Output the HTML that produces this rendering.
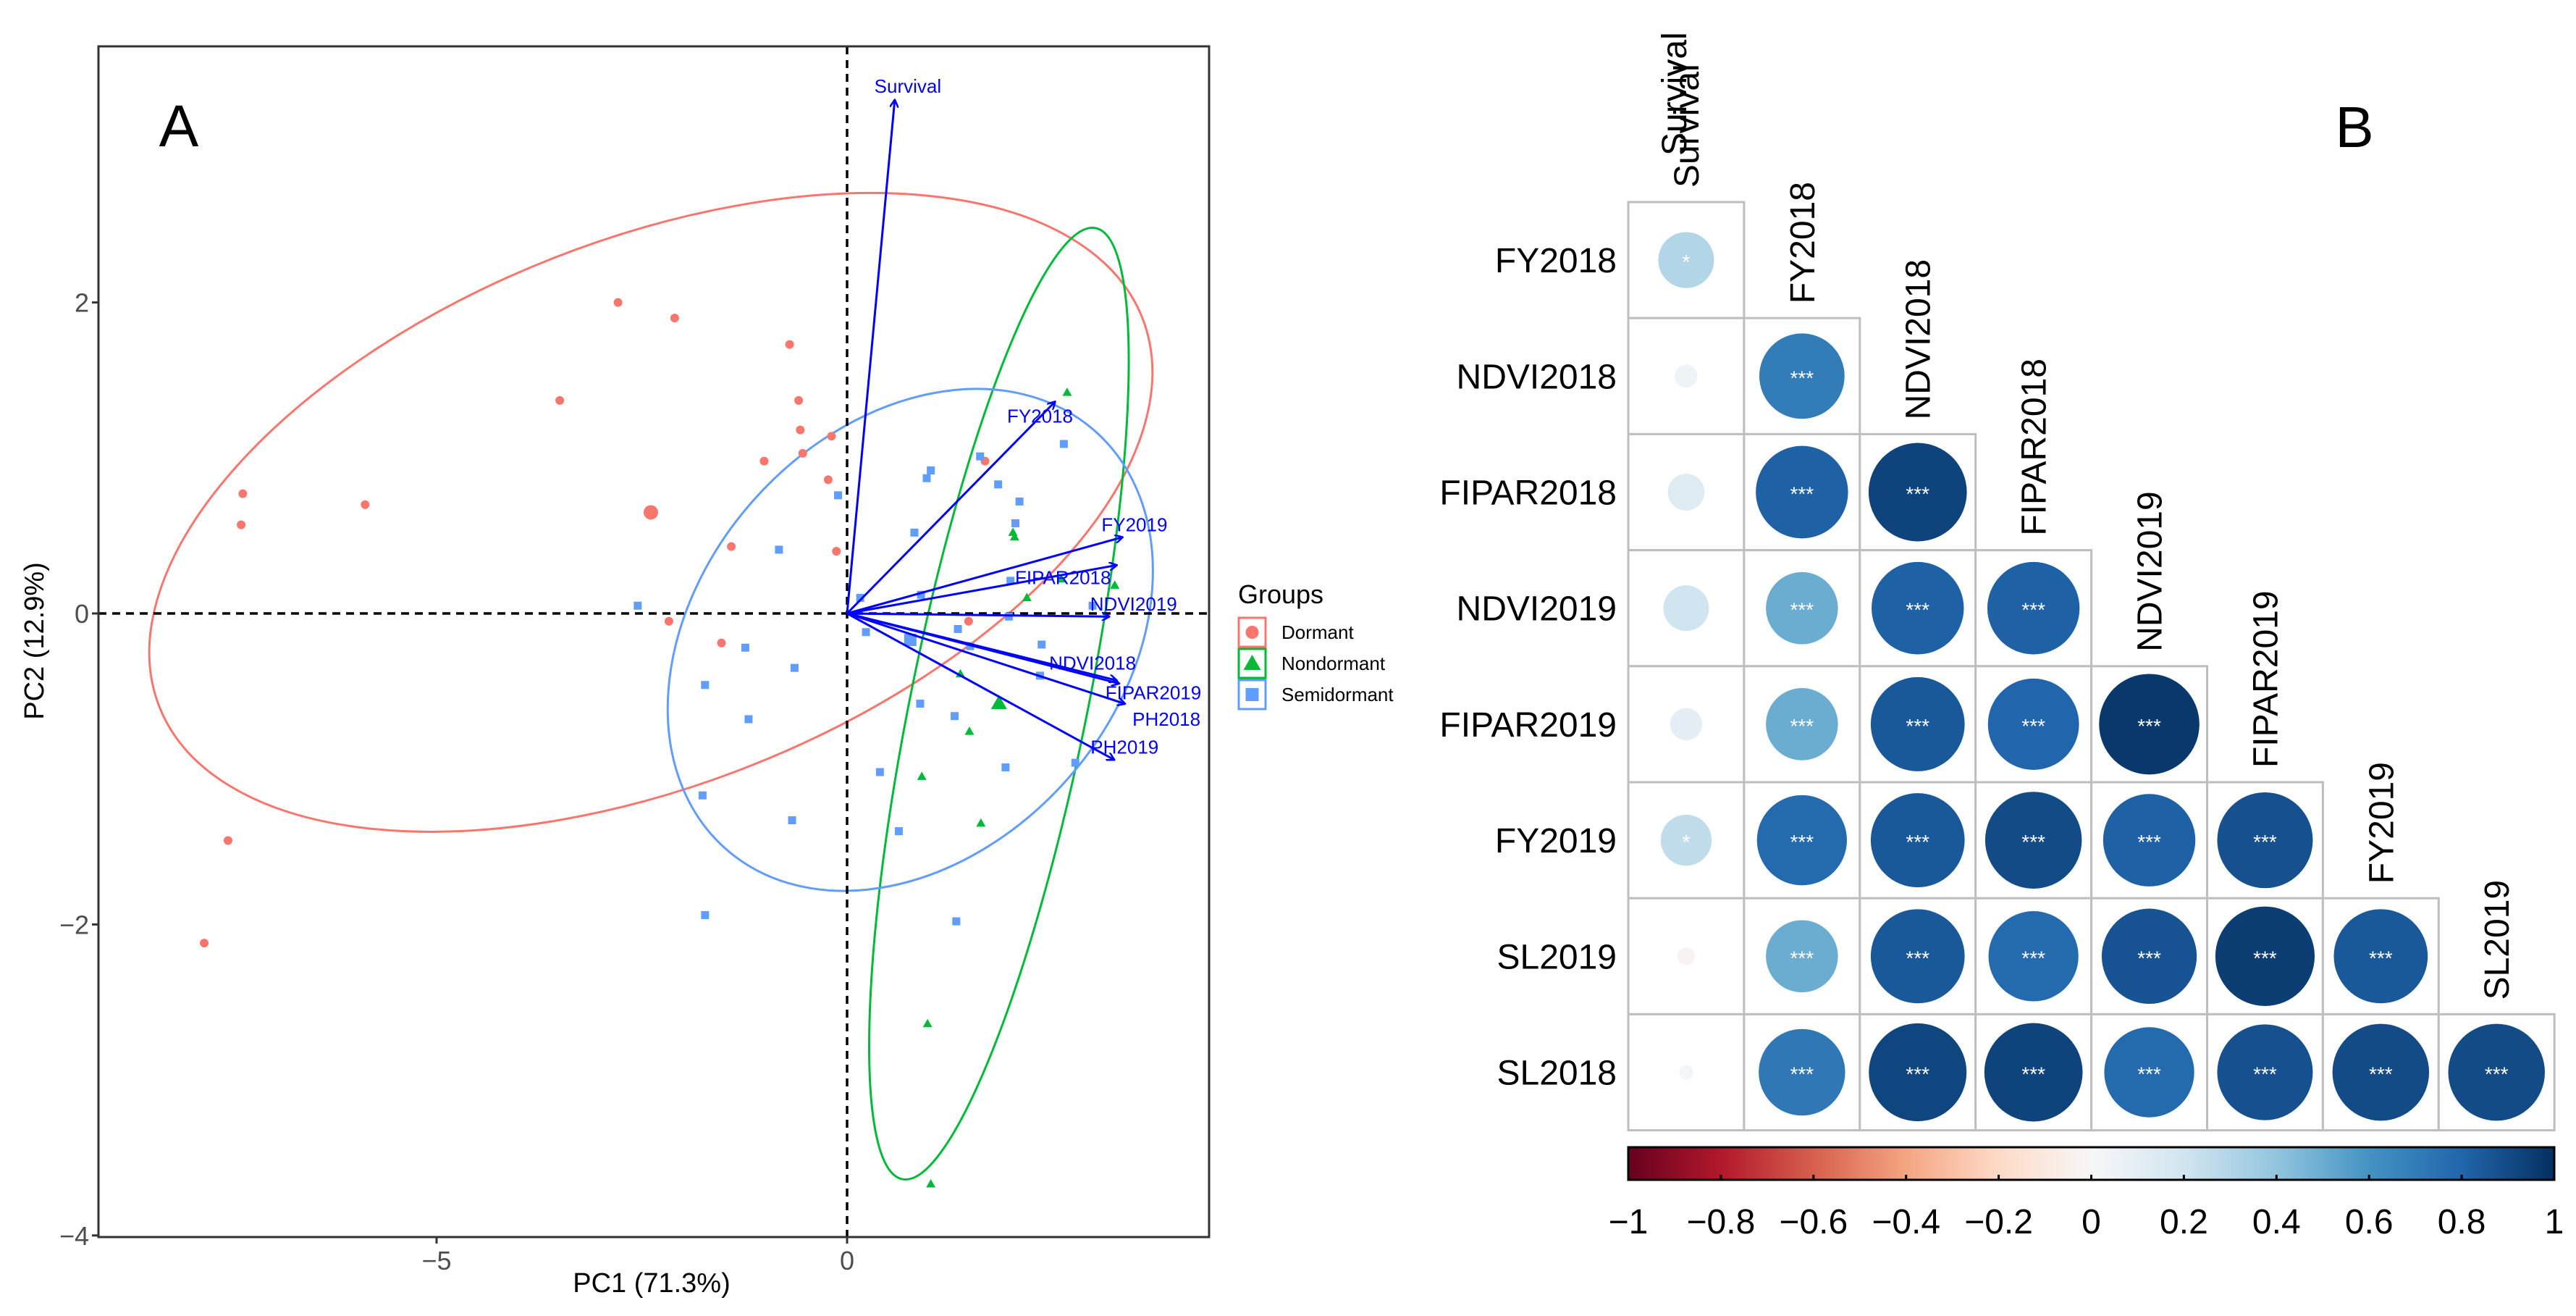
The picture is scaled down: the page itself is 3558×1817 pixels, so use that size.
<!DOCTYPE html>
<html><head><meta charset="utf-8"><style>
html,body{margin:0;padding:0;background:#fff;}
svg{display:block;font-family:"Liberation Sans",Arial,sans-serif;}
</style></head><body>
<svg id="fig" width="3558" height="1817" viewBox="0 0 3558 1817" xmlns="http://www.w3.org/2000/svg">
<rect width="3558" height="1817" fill="#fff"/>
<g id="pA"></g>
<g id="pB"></g>
</svg>
<script>
// ---------- Panel A data ----------
const dormantX = [-2.79,-2.10,-0.70,-3.50,-0.59,-0.57,-0.19,-1.01,-0.54,-0.23,-7.36,-5.87,-7.38,-1.41,-0.13,-2.17,-1.53,1.68,1.48,-7.54,-7.83];
const dormantY = [2.0,1.90,1.73,1.37,1.37,1.18,1.14,0.98,1.03,0.86,0.77,0.70,0.57,0.43,0.40,-0.05,-0.19,0.98,-0.05,-1.46,-2.12];
const nondormX = [2.68,2.02,2.04,2.61,3.26,2.19,1.38,1.49,0.91,1.63,0.98,1.02];
const nondormY = [1.42,0.52,0.49,0.22,0.18,0.10,-0.39,-0.76,-1.05,-1.35,-2.64,-3.67];
const semiX = [2.64,1.62,1.02,0.97,1.84,2.10,-0.11,0.82,2.05,-0.83,1.99,0.90,0.16,-2.55,2.99,1.97,1.35,0.23,1.50,2.37,-1.24,-0.64,2.35,-1.73,0.89,-1.20,1.31,2.78,1.93,0.40,-1.76,-0.67,0.63,-1.73,1.33];
const semiY = [1.09,1.01,0.92,0.87,0.83,0.72,0.76,0.52,0.58,0.41,0.21,0.12,0.10,0.05,0.05,-0.02,-0.10,-0.12,-0.21,-0.20,-0.22,-0.35,-0.40,-0.46,-0.58,-0.68,-0.66,-0.96,-0.99,-1.02,-1.17,-1.33,-1.40,-1.94,-1.98];
const centroidX = [-2.39,1.85,0.77];
const centroidY = [0.65,-0.58,-0.17];
const ellipseA = [730,670,385];   // semi-major (px)
const ellipseB = [376,122,290];   // semi-minor (px)
const ellipseAngle = [21.6,78.5,48.5];
const groupNames = ["Dormant","Nondormant","Semidormant"];
const groupColors = ["#F8766D","#00BA38","#619CFF"];
const varNames = ["Survival","FY2018","FY2019","FIPAR2018","NDVI2019","NDVI2018","FIPAR2019","PH2018","PH2019"];
const varX = [0.58,2.53,3.35,3.28,3.19,3.28,3.31,3.38,3.25];
const varY = [3.30,1.36,0.49,0.31,-0.02,-0.43,-0.45,-0.58,-0.94];
const varLabX = [0.74,2.35,3.50,2.63,3.49,2.99,3.73,3.89,3.38];
const varLabY = [3.39,1.27,0.57,0.23,0.06,-0.32,-0.51,-0.68,-0.86];
const xTicks = [-5,0];
const yTicks = [2,0,-2,-4];

// ---------- Panel B data ----------
const rowNames = ["FY2018","NDVI2018","FIPAR2018","NDVI2019","FIPAR2019","FY2019","SL2019","SL2018"];
const colNames = ["Survival","FY2018","NDVI2018","FIPAR2018","NDVI2019","FIPAR2019","FY2019","SL2019"];
const corrRow0 = [0.3];
const corrRow1 = [0.05,0.7];
const corrRow2 = [0.13,0.82,0.93];
const corrRow3 = [0.2,0.5,0.82,0.82];
const corrRow4 = [0.1,0.5,0.85,0.8,0.97];
const corrRow5 = [0.25,0.78,0.85,0.9,0.82,0.88];
const corrRow6 = [-0.03,0.5,0.85,0.78,0.87,0.95,0.85];
const corrRow7 = [0.02,0.72,0.92,0.93,0.78,0.88,0.9,0.9];
const sigRow0 = ["*"];
const sigRow1 = ["","***"];
const sigRow2 = ["","***","***"];
const sigRow3 = ["","***","***","***"];
const sigRow4 = ["","***","***","***","***"];
const sigRow5 = ["*","***","***","***","***","***"];
const sigRow6 = ["","***","***","***","***","***","***"];
const sigRow7 = ["","***","***","***","***","***","***","***"];
const barTicks = [-1,-0.8,-0.6,-0.4,-0.2,0,0.2,0.4,0.6,0.8,1];
const barTickLabels = ["\u22121","\u22120.8","\u22120.6","\u22120.4","\u22120.2","0","0.2","0.4","0.6","0.8","1"];

const NS="http://www.w3.org/2000/svg";
function mk(parent,tag,attrs,text){const e=document.createElementNS(NS,tag);for(const k in attrs)e.setAttribute(k,attrs[k]);if(text!==undefined)e.textContent=text;parent.appendChild(e);return e;}

// ---------- Panel A ----------
const A=document.getElementById('pA');
const L=136,R=1670,T=64,B=1708;
const sx=v=>1170+v*113.4, sy=v=>847-v*214.7;
mk(A,'defs',{}).innerHTML='<clipPath id="clipA"><rect x="136" y="64" width="1534" height="1644"/></clipPath><marker id="arr" markerWidth="12" markerHeight="12" refX="10" refY="6" orient="auto" markerUnits="userSpaceOnUse"><path d="M0,0 L11,6 L0,12" fill="none" stroke="#0000FF" stroke-width="2.5"/></marker>';
const plot=mk(A,'g',{'clip-path':'url(#clipA)'});


for(let g=0;g<3;g++){
  const e=mk(plot,'ellipse',{cx:sx(centroidX[g]),cy:sy(centroidY[g]),rx:ellipseA[g],ry:ellipseB[g],transform:`rotate(${-ellipseAngle[g]} ${sx(centroidX[g])} ${sy(centroidY[g])})`,fill:'none',stroke:groupColors[g],'stroke-width':3});
  
  
}
let zl=mk(plot,'line',{x1:sx(0),x2:sx(0),y1:T,y2:B,stroke:'#000','stroke-width':3.5,'stroke-dasharray':'11,8'});


zl=mk(plot,'line',{x1:L,x2:R,y1:sy(0),y2:sy(0),stroke:'#000','stroke-width':3.5,'stroke-dasharray':'11,8'});


function circle(x,y,r,c,n){const e=mk(plot,'circle',{cx:sx(x),cy:sy(y),r:r,fill:c});}
function square(x,y,s,c,n){const e=mk(plot,'rect',{x:sx(x)-s/2,y:sy(y)-s/2,width:s,height:s,fill:c});}
function tri(x,y,s,c,n){const X=sx(x),Y=sy(y);const e=mk(plot,'polygon',{points:`${X},${Y-s*0.7} ${X-s*0.65},${Y+s*0.45} ${X+s*0.65},${Y+s*0.45}`,fill:c});}
dormantX.forEach((v,i)=>circle(v,dormantY[i],6,groupColors[0],'point-dormant'));
nondormX.forEach((v,i)=>tri(v,nondormY[i],10,groupColors[1],'point-nondormant'));
semiX.forEach((v,i)=>square(v,semiY[i],11,groupColors[2],'point-semidormant'));
circle(centroidX[0],centroidY[0],10,groupColors[0],'centroid-dormant');
tri(centroidX[1],centroidY[1],17,groupColors[1],'centroid-nondormant');
square(centroidX[2],centroidY[2],17,groupColors[2],'centroid-semidormant');
varNames.forEach((n,i)=>{
  const l=mk(plot,'line',{x1:sx(0),y1:sy(0),x2:sx(varX[i]),y2:sy(varY[i]),stroke:'#0000FF','stroke-width':3,'marker-end':'url(#arr)'});
  
  
  const t=mk(plot,'text',{x:sx(varLabX[i]),y:sy(varLabY[i]),'text-anchor':'middle','dominant-baseline':'central','font-size':26,fill:'#0000FF'},n);
  
  
});
const fr=mk(A,'rect',{x:L,y:T,width:R-L,height:B-T,fill:'none',stroke:'#333','stroke-width':3});

xTicks.forEach(v=>{
  mk(A,'line',{x1:sx(v),x2:sx(v),y1:B,y2:B+9,stroke:'#333','stroke-width':3});
  const t=mk(A,'text',{x:sx(v),y:B+45,'text-anchor':'middle','font-size':36,fill:'#4d4d4d'},v<0?'\u2212'+(-v):String(v));
  
});
yTicks.forEach(v=>{
  mk(A,'line',{x1:L-9,x2:L,y1:sy(v),y2:sy(v),stroke:'#333','stroke-width':3});
  const t=mk(A,'text',{x:L-13,y:sy(v)+13,'text-anchor':'end','font-size':36,fill:'#4d4d4d'},v<0?'\u2212'+(-v):String(v));
  
});
let t=mk(A,'text',{x:900,y:1784,'text-anchor':'middle','font-size':38},'PC1 (71.3%)');

t=mk(A,'text',{x:60,y:885,'text-anchor':'middle','font-size':38,transform:'rotate(-90 60 885)'},'PC2 (12.9%)');

t=mk(A,'text',{x:247,y:202,'text-anchor':'middle','font-size':82},'A');

t=mk(A,'text',{x:1710,y:833,'font-size':36},'Groups');

groupNames.forEach((n,i)=>{
  const y0=853+i*43;
  const g=mk(A,'g',{});
  
  
  mk(g,'rect',{x:1711,y:y0,width:37,height:40,fill:'#fff',stroke:groupColors[i],'stroke-width':3});
  const cx=1729.5,cy=y0+20;
  if(i===0)mk(g,'circle',{cx:cx,cy:cy,r:9,fill:groupColors[0]});
  if(i===1)mk(g,'polygon',{points:`${cx},${cy-12} ${cx-12},${cy+9} ${cx+12},${cy+9}`,fill:groupColors[1]});
  if(i===2)mk(g,'rect',{x:cx-9,y:cy-9,width:18,height:18,fill:groupColors[2]});
  mk(g,'text',{x:1770,y:cy+9,'font-size':26},n);
});

// ---------- Panel B ----------
const P=document.getElementById('pB');
const corr=[corrRow0,corrRow1,corrRow2,corrRow3,corrRow4,corrRow5,corrRow6,corrRow7];
const sig=[sigRow0,sigRow1,sigRow2,sigRow3,sigRow4,sigRow5,sigRow6,sigRow7];
const gx0=2249,cw=159.9,gy0=279,ch=160.2;
const stops=[[103,0,31],[178,24,43],[214,96,77],[244,165,130],[253,219,199],[247,247,247],[209,229,240],[146,197,222],[67,147,195],[33,102,172],[5,48,97]];
function col(r){const p=(r+1)/0.2;const i=Math.min(9,Math.floor(p));const f=p-i;const a=stops[i],b=stops[i+1];return `rgb(${a.map((v,k)=>Math.round(v+(b[k]-v)*f)).join(',')})`;}
for(let i=0;i<rowNames.length;i++){
  const y=gy0+i*ch;
  t=mk(P,'text',{x:2233,y:y+ch/2+17,'text-anchor':'end','font-size':48},rowNames[i]);
  
  for(let j=0;j<=i;j++){
    const x=gx0+j*cw;
    const c=mk(P,'rect',{x:x,y:y,width:cw,height:ch,fill:'#fff',stroke:'#BEBEBE','stroke-width':3});
    
    const r=corr[i][j],s=Math.sqrt(Math.abs(r))*0.88;
    const e=mk(P,'ellipse',{cx:x+cw/2,cy:y+ch/2,rx:s*cw/2,ry:s*ch/2,fill:col(r)});
    
    
    if(sig[i][j]){const st=mk(P,'text',{x:x+cw/2,y:y+ch/2+12,'text-anchor':'middle','font-size':28,fill:'#fff'},sig[i][j]);
      }
  }
}
colNames.forEach((n,j)=>{
  const x=gx0+j*cw+cw/2+17;
  const yb=gy0+j*ch-20;
  const tt=mk(P,'text',{x:x,y:yb,'font-size':48,transform:`rotate(-90 ${x} ${yb})`},n);
  
});
const x2=gx0+cw/2,y2=215;
t=mk(P,'text',{x:x2,y:y2,'font-size':48,transform:`rotate(-90 ${x2} ${y2})`},colNames[0]);

t=mk(P,'text',{x:3252,y:203,'text-anchor':'middle','font-size':80},'B');

// colorbar
const bx0=2249,bx1=3528,by0=1584,by1=1629;
const defs=mk(P,'defs',{});
const lg=mk(defs,'linearGradient',{id:'rdbu',x1:0,x2:1,y1:0,y2:0});
stops.forEach((s,i)=>mk(lg,'stop',{offset:i/10,'stop-color':`rgb(${s.join(',')})`}));
const cb=mk(P,'rect',{x:bx0,y:by0,width:bx1-bx0,height:by1-by0,fill:'url(#rdbu)',stroke:'#000','stroke-width':3});

const bs=v=>bx0+(v+1)/2*(bx1-bx0);
barTicks.forEach((v,i)=>{
  mk(P,'line',{x1:bs(v),x2:bs(v),y1:by1-7,y2:by1,stroke:'#000','stroke-width':3});
  const tl=mk(P,'text',{x:bs(v),y:1703,'text-anchor':'middle','font-size':48},barTickLabels[i]);
  
});
</script>
</body></html>
